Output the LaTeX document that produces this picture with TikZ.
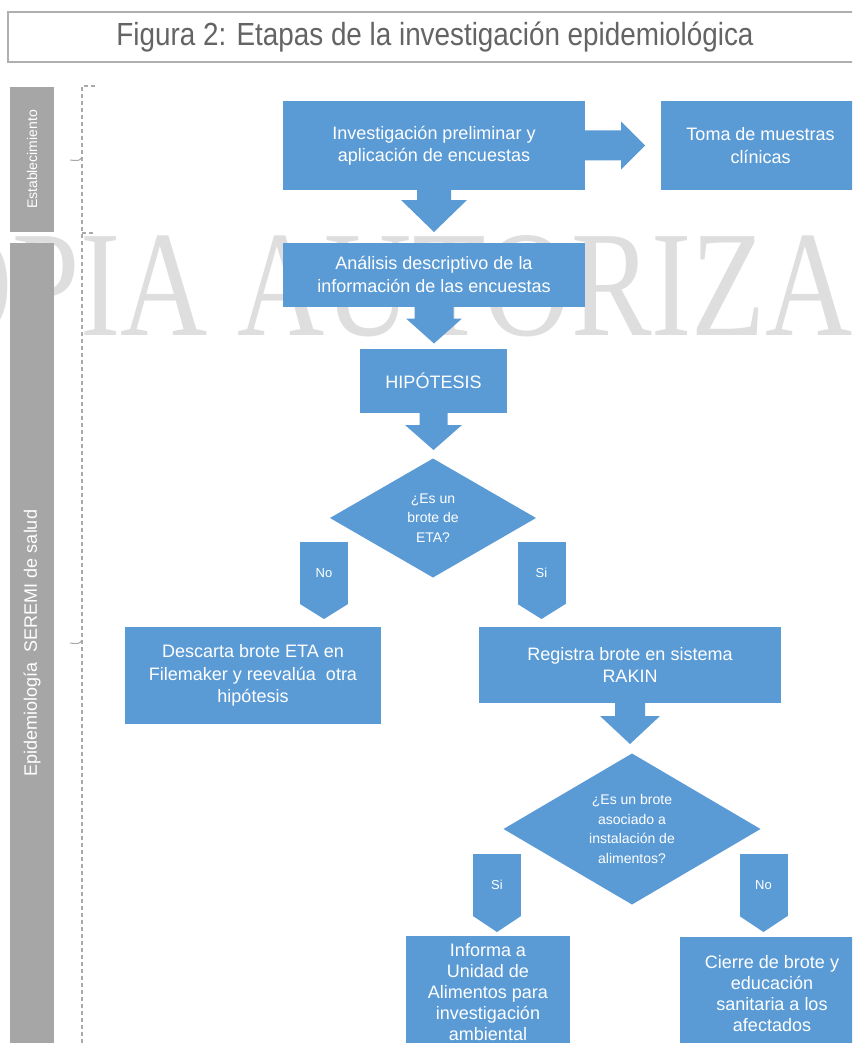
\documentclass[tikz,border=0pt]{standalone}
\usepackage{fontspec}
\usepackage{graphicx}
\setmainfont{Liberation Sans}
\newfontfamily\wmfont{Liberation Serif}
\usetikzlibrary{shapes.geometric,calc}
\definecolor{boxblue}{RGB}{91,155,213}
\definecolor{bargray}{RGB}{166,166,166}
\definecolor{wmgray}{RGB}{222,222,222}
\definecolor{titlegray}{RGB}{100,100,100}
\definecolor{titleborder}{RGB}{175,175,175}
\definecolor{dashgray}{RGB}{170,170,170}
% down block arrow: #1 start, #2 shaft half width, #3 head half width, #4 shaft length, #5 head length
\newcommand{\DownBlk}[5]{%
  \fill[boxblue] ($(#1)+(-#2,0)$) -- ($(#1)+(-#2,#4)$) -- ($(#1)+(-#3,#4)$) -- ($(#1)+(0,#4+#5)$) -- ($(#1)+(#3,#4)$) -- ($(#1)+(#2,#4)$) -- ($(#1)+(#2,0)$) -- cycle;}
\newcommand{\RightBlk}[5]{%
  \fill[boxblue] ($(#1)+(0,-#2)$) -- ($(#1)+(#4,-#2)$) -- ($(#1)+(#4,-#3)$) -- ($(#1)+(#4+#5,0)$) -- ($(#1)+(#4,#3)$) -- ($(#1)+(#4,#2)$) -- ($(#1)+(0,#2)$) -- cycle;}
\newcommand{\SigTip}[2]{%
  \fill[boxblue] (#1.south west) -- (#1.south east) -- ($(#1.south)+(0,#2)$) -- cycle;}
\begin{document}
\begin{tikzpicture}[x=1pt,y=-1pt,
  blk/.style={fill=boxblue, text=white, inner sep=2pt, outer sep=0pt, align=center,
    font=\fontsize{18}{22.5}\selectfont},
  dia/.style={diamond, fill=boxblue, text=white, inner sep=0pt, outer sep=0pt, align=center,
    font=\fontsize{14}{19.5}\selectfont},
  sig/.style={fill=boxblue, text=white, inner sep=0pt, outer sep=0pt,
    minimum width=48pt, minimum height=62pt, font=\fontsize{13}{13}\selectfont},
  barbox/.style={fill=bargray, text=white, rotate=90, inner sep=0pt, outer sep=0pt,
    minimum height=44pt},
  dashline/.style={draw=dashgray, line width=1.2pt, dash pattern=on 4pt off 3pt},
  wm/.style={text=wmgray, inner sep=0pt, font=\wmfont\fontsize{151}{151}\selectfont}
]
\useasboundingbox (0,0) rectangle (852,1043);
\begin{scope}
\clip (0,0) rectangle (852,1043);
\fill[white] (0,0) rectangle (852,1043);

% watermark
\node[wm, anchor=base west, xscale=0.8] (wm) at (-155,335) {COPIA AUTORIZADA};

% title
\node[draw=titleborder, line width=1.3pt, minimum width=854pt, minimum height=50pt,
      inner sep=0pt, text=titlegray] (title) at (435,37)
      {\scalebox{0.87}[1]{\fontsize{32}{32}\selectfont Figura 2: Etapas de la investigación epidemiológica}};

% left bars
\node[barbox, minimum width=145pt, font=\fontsize{14}{14}\selectfont] (bar1) at (32,159.5) {Establecimiento};
\node[barbox, minimum width=800pt, font=\fontsize{18}{18}\selectfont] (bar2) at (32,643) {Epidemiología\ \ SEREMI de salud};

% dashed bracket line
\coordinate (dtop) at (95,86);
\coordinate (dcorner) at (82,86);
\coordinate (dbot) at (82,1050);
\draw[dashline] (dtop) -- (dcorner) -- (dbot);
\draw[dashline] (82,233) -- (95,233);
\draw[draw=dashgray, line width=1pt] (82,157) .. controls (79,161) .. (70,160);
\draw[draw=dashgray, line width=1pt] (82,640) .. controls (79,644) .. (70,643);

% boxes
\node[blk, minimum width=302pt, minimum height=89pt] (b1) at (434,145.5)
  {Investigación preliminar y\\aplicación de encuestas};
\node[blk, minimum width=199pt, minimum height=89pt] (b2) at (760.5,145.5)
  {Toma de muestras\\clínicas};
\node[blk, minimum width=302pt, minimum height=64pt] (b3) at (434,274.5)
  {Análisis descriptivo de la\\información de las encuestas};
\node[blk, minimum width=147pt, minimum height=64pt] (b4) at (433.5,381) {HIPÓTESIS};
\node[dia, minimum width=206pt, minimum height=119pt, aspect=1.73] (d1) at (433,518)
  {¿Es un\\brote de\\ETA?};
\node[sig] (no1) at (324,573) {No};
\SigTip{no1}{15}
\node[sig] (si1) at (541.5,573) {Si};
\SigTip{si1}{15}
\node[blk, minimum width=256pt, minimum height=97pt] (b5) at (253,675.5)
  {Descarta brote ETA en\\Filemaker y reevalúa\ \ otra\\hipótesis};
\node[blk, minimum width=302pt, minimum height=76pt] (b6) at (630,665)
  {Registra brote en sistema\\RAKIN};
\node[dia, minimum width=257pt, minimum height=151pt, aspect=1.7] (d2) at (632,829)
  {¿Es un brote\\asociado a\\instalación de\\alimentos?};
\node[sig] (si2) at (497,885) {Si};
\SigTip{si2}{16}
\node[sig] (no2) at (763.5,885) {No};
\SigTip{no2}{16}
\node[blk, minimum width=164pt, minimum height=113pt, font=\fontsize{18}{21}\selectfont] (b7) at (488,992)
  {Informa a\\Unidad de\\Alimentos para\\investigación\\ambiental};
\node[blk, minimum width=184pt, minimum height=113pt, font=\fontsize{18}{21}\selectfont] (b8) at (772,993.5)
  {Cierre de brote y\\educación\\sanitaria a los\\afectados};

% block arrows
\RightBlk{b1.east}{15}{24}{36}{24}
\DownBlk{b1.south}{17}{33}{10}{32}
\DownBlk{b3.south}{19.5}{28}{12}{25}
\DownBlk{b4.south}{14}{28.5}{12}{25}
\DownBlk{b6.south}{15}{30}{13}{28}
\end{scope}
\end{tikzpicture}
\end{document}
